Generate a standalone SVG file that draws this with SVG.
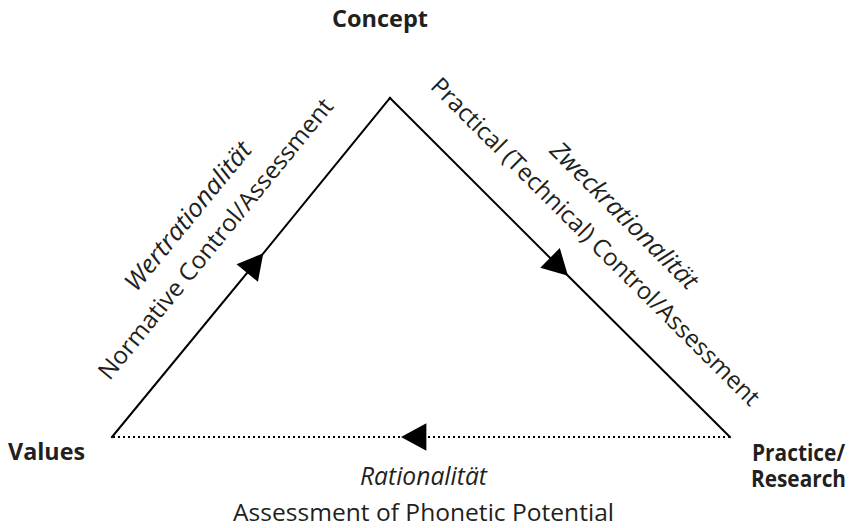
<svg xmlns="http://www.w3.org/2000/svg" width="852" height="528" viewBox="0 0 852 528">
<style>
.lbl{font-family:"Open Sans","Noto Sans","Liberation Sans",sans-serif;fill:#231f20;font-size:24px}
.b{font-weight:bold}
.i{font-style:italic;font-size:25px}
.c{text-anchor:middle}
.e{text-anchor:end}
.edge{fill:none;stroke:#000;stroke-width:2;stroke-linecap:square;marker-mid:url(#ah)}
.dot{stroke-dasharray:2 3;stroke-linecap:butt}
</style>
<defs>
<marker id="ah" markerUnits="userSpaceOnUse" markerWidth="30" markerHeight="30" viewBox="-24 -13 26 26" refX="0" refY="0" orient="auto" overflow="visible">
<path d="M-22,-12 L0,0 L-22,12 z" fill="#000"/>
</marker>
</defs>
<g id="connectors">
<path id="e-values-concept" class="edge" d="M112,437 L263.3,253.3 L390,98"/>
<path id="e-concept-practice" class="edge" d="M390,98 L568,275.8 L730,437"/>
<path id="e-practice-values" class="edge dot" d="M730,437 L401,437 L112,437"/>
</g>
<g id="concept"><text class="lbl b" x="332" y="27" font-size="23" textLength="96" lengthAdjust="spacingAndGlyphs">Concept</text></g>
<g id="values"><text class="lbl b" x="8" y="460" textLength="77" lengthAdjust="spacingAndGlyphs">Values</text></g>
<g id="practice"><text class="lbl b e" x="845" y="461" font-size="23" textLength="93" lengthAdjust="spacingAndGlyphs">Practice/</text><text class="lbl b e" x="846" y="487" font-size="23" textLength="95" lengthAdjust="spacingAndGlyphs">Research</text></g>
<g id="labels">
<text class="lbl i c" transform="translate(194.5,221.5) rotate(-50.65)" textLength="184" lengthAdjust="spacingAndGlyphs">Wertrationalität</text>
<text class="lbl c" transform="translate(222,244) rotate(-50.65)" textLength="355" lengthAdjust="spacingAndGlyphs">Normative Control/Assessment</text>
<text class="lbl i c" transform="translate(618.2,221.5) rotate(44.9)" textLength="197" lengthAdjust="spacingAndGlyphs">Zweckrationalität</text>
<text class="lbl c" transform="translate(589.6,247.5) rotate(44.9)" textLength="453" lengthAdjust="spacingAndGlyphs">Practical (Technical) Control/Assessment</text>
<text class="lbl i" x="360" y="485" textLength="127" lengthAdjust="spacingAndGlyphs">Rationalität</text>
<text class="lbl" x="233" y="521" textLength="381" lengthAdjust="spacingAndGlyphs">Assessment of Phonetic Potential</text>
</g>
</svg>
